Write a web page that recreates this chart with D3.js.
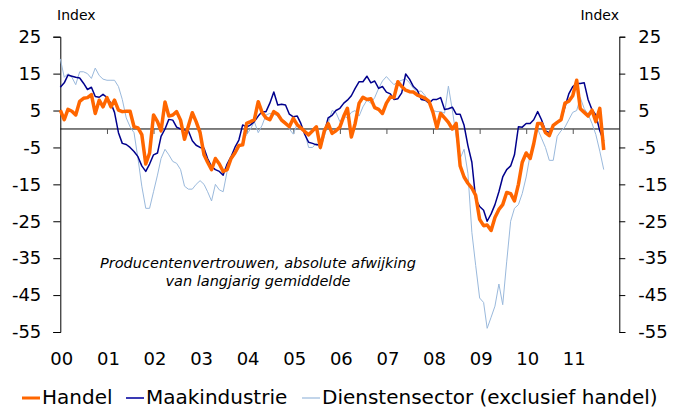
<!DOCTYPE html>
<html>
<head>
<meta charset="utf-8">
<script src="https://cdn.jsdelivr.net/npm/d3@7"></script>
<style>
  body { margin: 0; background: #fff; }
  text { font-family: "DejaVu Sans", Verdana, sans-serif; fill: #000; }
</style>
</head>
<body>
<div id="chart"></div>
<script>
// monthly values, jan 2000 - sep 2011
var handel = [5.1, 2.5, 5.3, 4.8, 3.8, 7.5, 8.3, 8.5, 9.3, 4.2, 7.8, 6,
  8.5, 6, 7.8, 5.1, 4.7, 4.8, 4.8, 0.6, 0.3, -1.5, -9.5, -6.5,
  3.8, 2, -0.5, 7.3, 3.5, 3.8, 4.7, 2.4, -2.8, 0.8, 4.4, 2,
  -1, -7, -9, -11, -8, -9.5, -11.5, -11, -8, -6.5, -4.5, -4.3,
  1.5, 2, 2.5, 7.4, 4.5, 3, 2.5, 4.7, 4, 2.4, 1.5, 0.6,
  2.9, 1.1, 0.3, -0.7, -1.6, -0.5, 0.6, -5, -0.5, 1.5, -1.2, -0.5,
  0.5, 3.5, 5.6, -2.2, 1.5, 7, 8.6, 8, 8.2, 5.8, 5.3, 4.2,
  7, 8.7, 8.5, 12.8, 11.5, 10.5, 10.1, 10, 9.2, 8.8, 8.3, 7.5,
  4.5, 0.3, 4.2, 3, 1.8, 0, 1.5, -10, -13, -14.7, -16, -18,
  -24.5, -26.2, -26, -27.5, -24, -21.8, -20.5, -17.2, -17.5, -19.5, -15, -9,
  -6.5, -8, -4, 1.5, 1.5, -1, -1.8, 1, 1.8, 2.5, 7, 7.5,
  9, 13.2, 5.5, 4.5, 3.5, 5.1, 2, 5.6, -5.7];

var maakindustrie = [11.3, 12.5, 14.6, 14.3, 14, 13.8, 12.4, 10.7, 11.3, 8.8, 8.6, 9.4,
  8.5, 7, 4.5, -1, -3.9, -4.2, -5, -6.1, -7.5, -10, -11.5, -9.5,
  -7, -6.5, -2, 0, 2.6, 2.4, 0.5, 0, -0.3, -0.5, -3.2, -4.4,
  -5, -5.2, -8, -10.2, -11, -11.5, -12.5, -9.5, -7.5, -5, -3, 1.1,
  0.5, 1.1, 2, 3.5, 4.7, 4.7, 7, 10, 6.5, 6.7, 6.5, 4,
  3.3, 3.5, 1.5, -1.5, -3.6, -3.9, -4.3, -4.3, -1, 3, 3.7, 5,
  5.6, 7, 7.8, 9, 11, 12.8, 12.8, 14.3, 12.5, 13, 11, 11.5,
  10, 9.5, 8, 8.2, 9.8, 14.9, 13.5, 11.5, 10.5, 8, 7.8, 7,
  8, 8, 8.5, 5.3, 5.5, 5.9, 4, 4, 1, -4.5, -9, -19,
  -21, -22, -25, -23, -20.5, -17, -13, -11, -10, -7, 0.6, 0.5,
  1.5, 1.5, 2.5, 4.7, 2.5, -0.5, -1, 1, 1.7, 2.5, 6, 9.5,
  11.5, 12.3, 12.3, 12.5, 8, 5.2, 3.8, -0.5, -3.3];

var diensten = [19, 14, 15, 14, 12, 15.5, 15.5, 15, 13.7, 16.5, 14.5, 13.5,
  13.2, 13.2, 13.2, 11.5, 8, 3, 0.6, -1, -8, -15.5, -21.5, -21.5,
  -17, -12.5, -8, -5.5, -7, -8.8, -9.3, -11, -15.5, -16.3, -16.3, -15,
  -14, -15, -17, -19.5, -15, -16.5, -17, -11.5, -8.4, -7, -5, -3.5,
  -1.5, 0, 2, -1, 1, 3.8, 4.2, 4, 3.5, 2.5, 2, 0,
  -1.4, 1.5, 0, -1, -5, -5, -3.8, -5.5, -2, 1.5, 5, 4.5,
  2, 3.5, 3, 4.5, 5, 3.5, 6, 7.8, 7, 8.5, 11, 13,
  14.2, 13, 12, 12.8, 13.2, 13.6, 12.5, 11, 10.1, 10.3, 9, 7,
  5, 4.7, 4.7, 4.3, 11.6, 5.1, -2, -8, -5.5, -12, -28, -37,
  -45.8, -47, -54, -51, -48, -42, -47.6, -36, -25, -21.5, -20.5, -17.5,
  -13, -7, -3.5, 0, -2.5, -5, -8.5, -8.5, -2, -0.5, 0.5, 2.5,
  4.5, 5, 8.5, 5.5, 4, 1.5, -1.5, -6, -11];

var yTicks = [25, 15, 5, -5, -15, -25, -35, -45, -55];
var yearLabels = ["00", "01", "02", "03", "04", "05", "06", "07", "08", "09", "10", "11"];
var legendNames = ["Handel", "Maakindustrie", "Dienstensector (exclusief handel)"];

var w = 674, h = 410;
var plotLeft = 60.3, plotRight = 619.3, plotTop = 36.7, plotBottom = 332;

var svg = d3.select("#chart").append("svg")
  .attr("width", w)
  .attr("height", h);

var x = d3.scaleTime()
  .domain([new Date(2000, 0, 1), new Date(2012, 0, 1)])
  .range([plotLeft, plotRight]);

var y = d3.scaleLinear()
  .domain([-55, 25])
  .range([plotBottom, plotTop]);

function month(i) { return new Date(2000, i, 1); }

// plain hyphen for negatives, like the original
var fmt = d => String(d);

// left and right axes
var yLeft = d3.axisLeft(y).tickValues(yTicks).tickSize(7).tickPadding(12).tickFormat(fmt);
var yRight = d3.axisRight(y).tickValues(yTicks).tickSize(6).tickPadding(13).tickFormat(fmt);

svg.append("g")
  .attr("transform", "translate(" + plotLeft + ",0)")
  .call(yLeft)
  .call(g => g.selectAll("text").style("font-size", "18px"));

svg.append("g")
  .attr("transform", "translate(" + plotRight + ",0)")
  .call(yRight)
  .call(g => g.selectAll("text").style("font-size", "18px"));

svg.selectAll(".domain").attr("stroke", "#000");
svg.selectAll(".tick line").attr("stroke", "#000");

// zero line with year ticks
var years = d3.range(1, 12).map(d => new Date(2000 + d, 0, 1));
var xAxis = d3.axisBottom(x).tickValues(years).tickSize(5).tickFormat("");
svg.append("g")
  .attr("transform", "translate(0," + y(0) + ")")
  .call(xAxis)
  .call(g => g.select(".domain").attr("stroke", "#000").attr("d", "M" + plotLeft + ",0H" + plotRight))
  .call(g => g.selectAll("line").attr("stroke", "#555"));

// year labels along the bottom
svg.append("g").selectAll("text")
  .data(yearLabels)
  .enter()
  .append("text")
  .attr("x", (d, i) => x(new Date(2000 + i, 0, 1)) + 1.5)
  .attr("y", 365)
  .attr("text-anchor", "middle")
  .style("font-size", "18px")
  .text(d => d);

svg.append("text").attr("x", 57).attr("y", 20).style("font-size", "14px").text("Index");
svg.append("text").attr("x", 619).attr("y", 20).attr("text-anchor", "end").style("font-size", "14px").text("Index");

// note
var note = svg.append("text")
  .attr("text-anchor", "middle")
  .style("font-size", "14.5px")
  .style("font-style", "italic")
  .attr("fill", "#222");
note.append("tspan").attr("x", 258).attr("y", 268).text("Producentenvertrouwen,  absolute afwijking");
note.append("tspan").attr("x", 258).attr("y", 286).text("van langjarig gemiddelde");

var line = d3.line()
  .x((d, i) => x(month(i)))
  .y(d => y(d));

var series = [
  { values: diensten, color: "#9ab9dc", width: 1 },
  { values: maakindustrie, color: "#00008c", width: 1.5 },
  { values: handel, color: "#ff6600", width: 3.5 }
];

svg.append("g").selectAll("path")
  .data(series)
  .enter()
  .append("path")
  .attr("d", d => line(d.values))
  .attr("fill", "none")
  .attr("stroke", d => d.color)
  .attr("stroke-width", d => d.width)
  .attr("stroke-linejoin", "round");

// legend
var legendPos = [22, 126, 302];
var legendColors = ["#ff6600", "#3a3ab4", "#9ab9dc"];
var legendWidths = [3, 2, 1.2];
var lg = svg.append("g").selectAll("g")
  .data(legendNames)
  .enter()
  .append("g")
  .attr("transform", (d, i) => "translate(" + legendPos[i] + ",398)");

lg.append("line")
  .attr("x1", 0).attr("x2", 18)
  .attr("stroke", (d, i) => legendColors[i])
  .attr("stroke-width", (d, i) => legendWidths[i]);

lg.append("text")
  .attr("x", 20)
  .attr("y", 6)
  .style("font-size", "20px")
  .text(d => d);
</script>
</body>
</html>
